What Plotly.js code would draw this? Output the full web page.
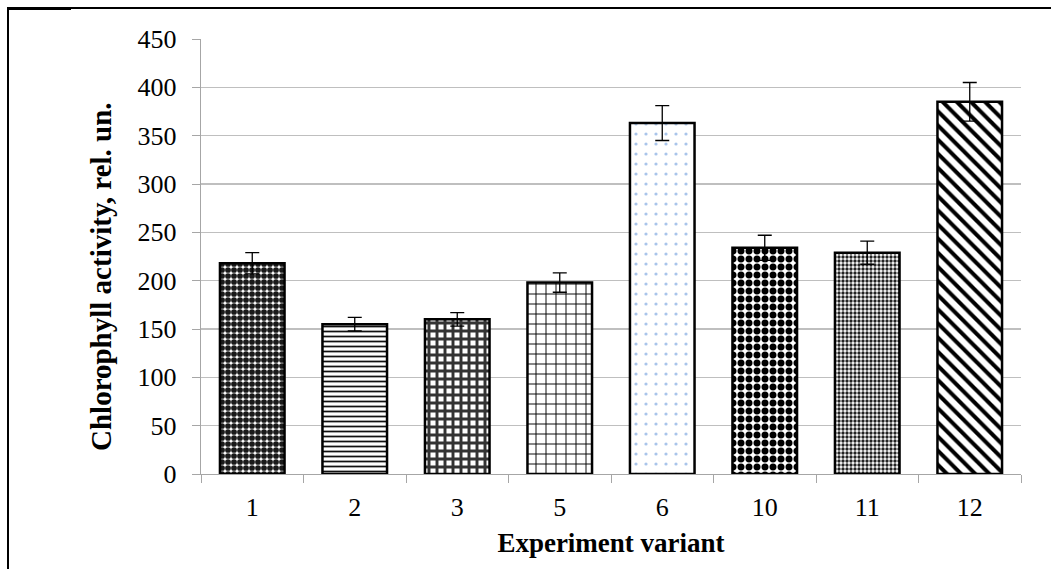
<!DOCTYPE html>
<html>
<head>
<meta charset="utf-8">
<script src="https://cdn.plot.ly/plotly-3.0.1.min.js"></script>
<style>
html,body{margin:0;padding:0;background:#fff;}
#wrap{position:relative;width:1051px;height:569px;overflow:hidden;}
#chart{position:absolute;left:0;top:0;width:1051px;height:569px;}
.bt{position:absolute;left:7px;top:7px;width:1044px;height:2px;background:#000;z-index:5;}
.bt2{position:absolute;left:7px;top:7px;width:64px;height:3px;background:#000;z-index:5;}
.bl{position:absolute;left:7px;top:7px;width:2px;height:562px;background:#000;z-index:5;}
</style>
</head>
<body>
<div id="wrap">
<div id="chart"></div>
<div class="bt"></div><div class="bt2"></div><div class="bl"></div>
</div>
<script>
const categories = ["1", "2", "3", "5", "6", "10", "11", "12"];
const values = [218, 155, 160, 198, 363, 234, 229, 385];
const errors = [11, 7, 7, 10, 18, 13, 12, 20];
const yTicks = [0, 50, 100, 150, 200, 250, 300, 350, 400, 450];

const patternShapes = [".", "-", "+", "+", ".", ".", ".", "\\"];
const patternFg = ["#1a1a1a", "#111", "#333", "#000", "#a9c4ea", "#000", "#222", "#000"];
const patternSize = [6, 5, 8, 10, 10, 8, 4, 10];
const patternSolidity = [0.72, 0.35, 0.6, 0.18, 0.08, 0.6, 0.55, 0.4];

const traces = categories.map((c, i) => ({
  type: "bar",
  x: [c],
  y: [values[i]],
  width: 0.63,
  error_y: {type: "data", array: [errors[i]], visible: true, color: "#000", thickness: 1.3, width: 7},
  marker: {
    color: "#fff",
    line: {color: "#000", width: 2.5},
    pattern: {shape: patternShapes[i], fgcolor: patternFg[i], bgcolor: "#fff", fgopacity: 1, size: patternSize[i], solidity: patternSolidity[i], fillmode: "overlay"}
  },
  hoverinfo: "x+y"
}));

const layout = {
  width: 1051, height: 569,
  margin: {l: 201, r: 30, t: 39, b: 95},
  paper_bgcolor: "#fff", plot_bgcolor: "#fff",
  showlegend: false,
  barmode: "overlay",
  font: {family: "Liberation Serif, Times New Roman, serif", color: "#000"},
  xaxis: {
    type: "category",
    categoryarray: categories, categoryorder: "array",
    tickson: "boundaries",
    ticks: "outside", ticklen: 8, tickcolor: "#a6a6a6", tickwidth: 1,
    showline: true, linecolor: "#a6a6a6", linewidth: 1.3,
    showgrid: false,
    tickfont: {size: 26, family: "Liberation Serif", color: "#000"},
    ticklabelstandoff: 9,
    title: {text: "Experiment variant", font: {size: 27, family: "Liberation Serif", weight: "bold", color: "#000"}, standoff: 12}
  },
  yaxis: {
    range: [0, 450],
    tickvals: yTicks,
    ticks: "outside", ticklen: 8, tickcolor: "#a6a6a6", tickwidth: 1,
    showline: true, linecolor: "#a6a6a6", linewidth: 1.3,
    showgrid: true, gridcolor: "#bfbfbf", gridwidth: 1.3,
    zeroline: false,
    tickfont: {size: 26, family: "Liberation Serif", color: "#000"},
    ticklabelstandoff: 10
  },
  annotations: [{
    text: "Chlorophyll activity, rel. un.",
    textangle: -90,
    xref: "paper", yref: "paper",
    x: (101 - 201) / 820, y: (474 - 277) / 435,
    xanchor: "center", yanchor: "middle",
    showarrow: false,
    font: {size: 29, family: "Liberation Serif", weight: "bold", color: "#000"}
  }]
};

Plotly.newPlot("chart", traces, layout, {displayModeBar: false, staticPlot: true});
</script>
</body>
</html>
